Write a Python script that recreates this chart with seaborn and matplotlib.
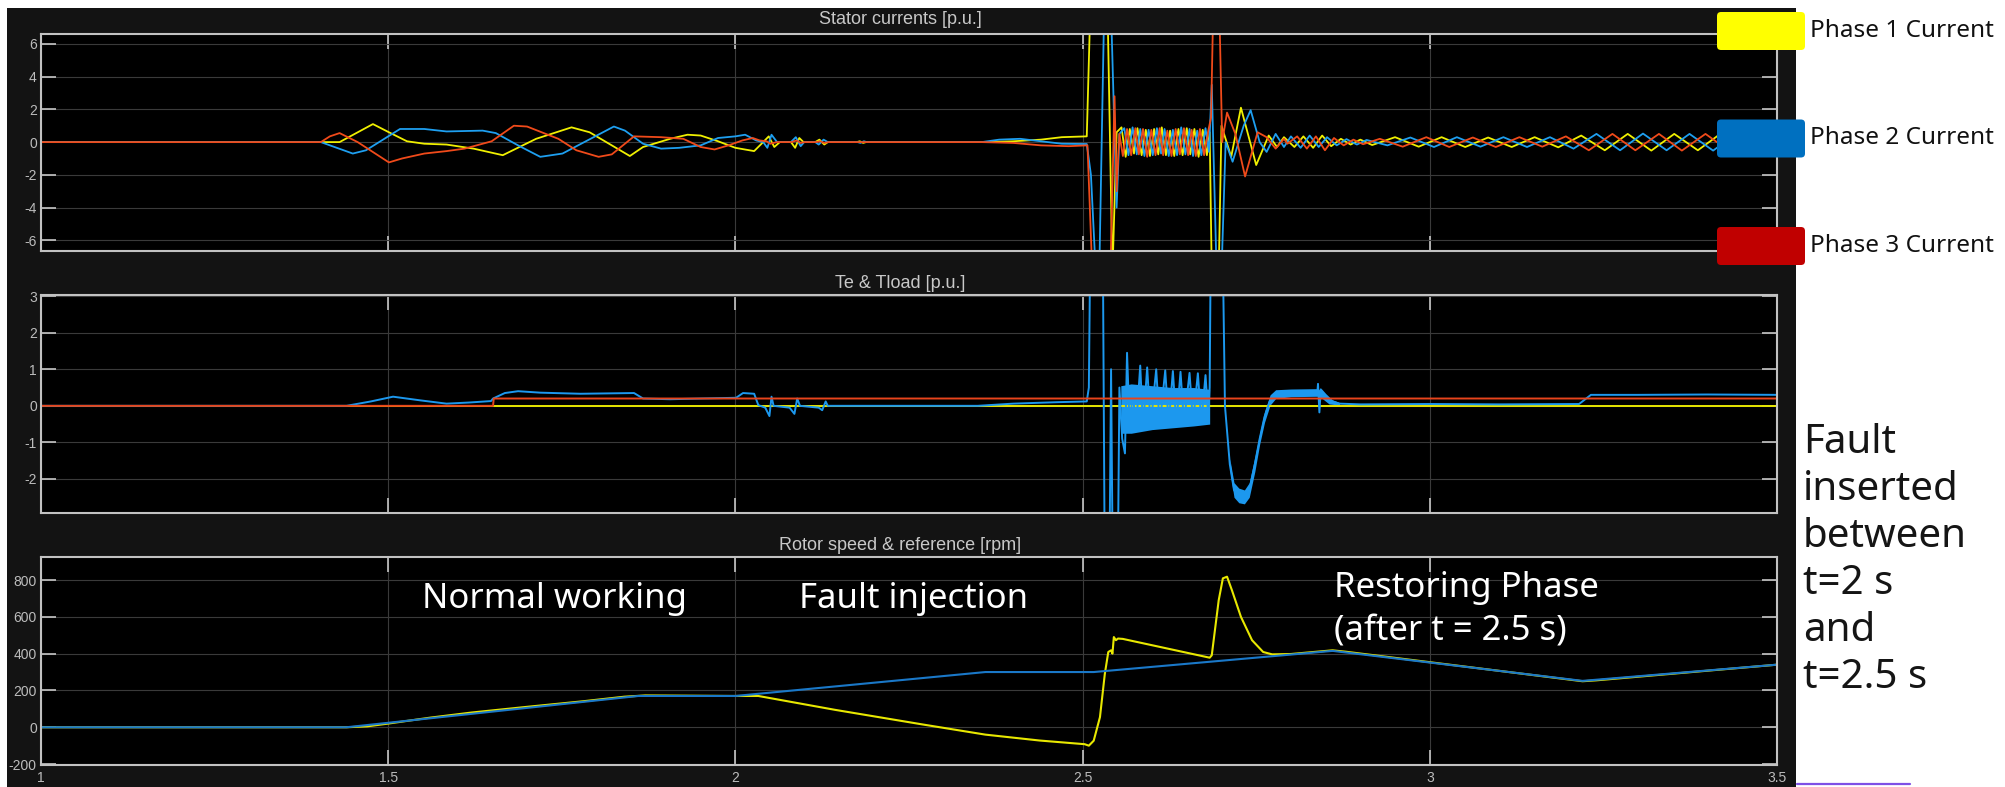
import matplotlib
matplotlib.use("Agg")
import matplotlib.pyplot as plt
from matplotlib.patches import Rectangle, FancyBboxPatch
from matplotlib.lines import Line2D
from matplotlib.transforms import IdentityTransform
import pandas as pd
import seaborn as sns

# ---------------- time axis [s] ----------------
x_ticks = [1, 1.5, 2, 2.5, 3, 3.5]
x_tick_labels = ["1", "1.5", "2", "2.5", "3", "3.5"]

# ---------------- stator currents [p.u.] ----------------
ia_t = [
    1.000, 1.430, 1.478, 1.501, 1.527, 1.552, 1.584, 1.623, 1.665, 1.713, 1.764, 1.790, 1.848, 1.867, 1.906, 1.931,
    1.950, 1.975, 2.000, 2.027, 2.040, 2.048, 2.056, 2.064, 2.080, 2.086, 2.092, 2.098, 2.115, 2.121, 2.128, 2.133, 2.175, 2.179, 2.184, 2.188,
    2.355, 2.400, 2.440, 2.470, 2.506,
    2.511, 2.536, 2.543, 2.549,
    2.556, 2.562, 2.568, 2.574, 2.579, 2.585, 2.591, 2.597, 2.603, 2.609, 2.614, 2.620, 2.626, 2.632, 2.638, 2.644, 2.650, 2.655, 2.661, 2.667, 2.673, 2.679, 2.683,
    2.686, 2.696, 2.700,
    2.714, 2.728, 2.750, 2.768, 2.780, 2.790,
    2.805, 2.818, 2.832, 2.845, 2.858, 2.872, 2.886, 2.900, 2.917,
    2.950, 2.984, 3.017, 3.051, 3.084, 3.118, 3.151, 3.185, 3.218, 3.252, 3.285, 3.319, 3.352, 3.386, 3.419, 3.453, 3.486, 3.500,
]
ia_v = [
    0, 0, 1.10, 0.60, 0.05, -0.10, -0.15, -0.40, -0.80, 0.20, 0.90, 0.60, -0.85, -0.30, 0.20, 0.45,
    0.40, 0.05, -0.35, -0.55, 0.00, 0.35, -0.30, 0.00, 0.00, -0.35, 0.25, 0.00, 0.00, 0.15, -0.15, 0.00, 0.00, 0.05, -0.05, 0.00,
    0.00, 0.05, 0.15, 0.30, 0.35,
    8, 8, -8, 0.60,
    0.90, -0.90, 0.80, -0.70, 0.85, -0.80, 0.75, -0.85, 0.80, -0.75, 0.90, -0.80, 0.70, -0.85, 0.80, -0.80, 0.85, -0.75, 0.80, -0.90, 0.75, -0.80, 0.60,
    -8, -8, 1.00,
    -0.90, 2.10, -1.40, 0.40, -0.30, 0.30,
    -0.30, 0.35, -0.35, 0.40, -0.25, 0.20, -0.15, 0.15, -0.18,
    0.30, -0.28, 0.30, -0.30, 0.28, -0.30, 0.30, -0.32, 0.40, -0.50, 0.50, -0.52, 0.50, -0.50, 0.52, -0.50, 0.50, 0.45,
]

ib_t = [
    1.000, 1.403, 1.449, 1.468, 1.517, 1.552, 1.584, 1.636, 1.655, 1.687, 1.719, 1.751, 1.825, 1.841, 1.867, 1.893, 1.919,
    1.950, 1.975, 2.000, 2.014, 2.030, 2.040, 2.046, 2.052, 2.060, 2.080, 2.087, 2.094, 2.099, 2.115, 2.120, 2.127, 2.133, 2.176, 2.180, 2.185, 2.189,
    2.355, 2.380, 2.410, 2.440, 2.470, 2.506,
    2.512, 2.519, 2.524, 2.531, 2.541, 2.549, 2.553,
    2.560, 2.566, 2.572, 2.578, 2.583, 2.589, 2.595, 2.601, 2.607, 2.613, 2.618, 2.624, 2.630, 2.636, 2.642, 2.648, 2.654, 2.659, 2.665, 2.671, 2.677, 2.682,
    2.686, 2.693, 2.700, 2.706,
    2.716, 2.732, 2.742, 2.755, 2.765, 2.778, 2.790,
    2.800, 2.814, 2.827, 2.840, 2.852, 2.866, 2.880, 2.895, 2.909, 2.939,
    2.972, 3.006, 3.039, 3.073, 3.106, 3.140, 3.173, 3.207, 3.240, 3.274, 3.307, 3.341, 3.374, 3.408, 3.441, 3.475, 3.500,
]
ib_v = [
    0, 0, -0.70, -0.50, 0.80, 0.80, 0.65, 0.70, 0.55, -0.20, -0.90, -0.70, 0.95, 0.70, -0.10, -0.40, -0.35,
    -0.20, 0.25, 0.35, 0.45, 0.10, 0.00, -0.35, 0.45, 0.00, 0.00, 0.30, -0.25, 0.00, 0.00, -0.15, 0.15, 0.00, 0.00, -0.05, 0.05, 0.00,
    0.00, 0.15, 0.20, 0.05, -0.10, -0.12,
    -2.0, -8, -8, 8, 8, -4.0, 0.50,
    0.85, -0.80, 0.90, -0.75, 0.80, -0.85, 0.75, -0.80, 0.85, -0.70, 0.80, -0.85, 0.75, -0.80, 0.90, -0.75, 0.80, -0.85, 0.70, -0.80, 0.85, -0.60,
    3.50, -8, -8, 0.00,
    -1.20, 1.00, 1.95, 0.00, -0.60, 0.50, -0.30,
    0.35, -0.35, 0.40, -0.30, 0.30, -0.20, 0.18, -0.15, 0.13, -0.20,
    0.28, -0.30, 0.30, -0.28, 0.30, -0.30, 0.30, -0.40, 0.50, -0.50, 0.52, -0.50, 0.50, -0.52, 0.50, -0.50, -0.30,
]

ic_t = [
    1.000, 1.403, 1.416, 1.430, 1.456, 1.501, 1.520, 1.552, 1.584, 1.610, 1.649, 1.681, 1.700, 1.745, 1.771, 1.803, 1.822, 1.854, 1.893, 1.925,
    1.950, 1.970, 1.990, 2.010, 2.025, 2.035, 2.045, 2.050, 2.060, 2.081, 2.088, 2.094, 2.100, 2.116, 2.122, 2.128, 2.134,
    2.355, 2.400, 2.440, 2.480, 2.507,
    2.514, 2.540, 2.546, 2.549, 2.553,
    2.558, 2.564, 2.570, 2.576, 2.581, 2.587, 2.593, 2.599, 2.605, 2.611, 2.616, 2.622, 2.628, 2.634, 2.640, 2.646, 2.652, 2.657, 2.663, 2.669, 2.675, 2.681,
    2.685, 2.688, 2.697, 2.701,
    2.708, 2.720, 2.734, 2.752, 2.765, 2.778, 2.790,
    2.795, 2.809, 2.823, 2.836, 2.849, 2.862, 2.876, 2.890, 2.904, 2.928,
    2.961, 2.995, 3.028, 3.062, 3.095, 3.129, 3.162, 3.196, 3.229, 3.263, 3.296, 3.330, 3.363, 3.397, 3.430, 3.464, 3.497, 3.500,
]
ic_v = [
    0, 0, 0.35, 0.55, 0.00, -1.24, -1.00, -0.70, -0.55, -0.40, 0.05, 1.00, 0.95, 0.20, -0.50, -0.90, -0.75, 0.35, 0.30, 0.20,
    -0.30, -0.45, -0.20, 0.10, 0.25, 0.10, 0.05, -0.10, 0.00, 0.00, 0.10, -0.05, 0.00, 0.00, 0.05, -0.05, 0.00,
    0.00, -0.05, -0.20, -0.25, -0.20,
    -8, -8, 2.80, -3.00, 0.50,
    -0.85, 0.80, -0.80, 0.85, -0.75, 0.80, -0.90, 0.75, -0.80, 0.85, -0.80, 0.70, -0.85, 0.80, -0.75, 0.85, -0.80, 0.75, -0.85, 0.80, -0.80, 0.70,
    1.50, 8, 8, 0.00,
    1.80, 0.50, -2.10, 0.60, 0.30, -0.40, 0.20,
    -0.10, 0.35, -0.40, 0.35, -0.50, 0.25, -0.20, 0.15, -0.13, 0.20,
    -0.28, 0.30, -0.30, 0.28, -0.30, 0.30, -0.28, 0.35, -0.50, 0.50, -0.50, 0.50, -0.52, 0.50, -0.50, 0.52, -0.50, -0.48,
]

# ---------------- electromagnetic & load torque [p.u.] ----------------
te_t = [
    1.000, 1.440, 1.475, 1.507, 1.546, 1.584, 1.616, 1.648, 1.651, 1.668,
    1.687, 1.719, 1.777, 1.854, 1.867, 1.906, 1.950, 2.001, 2.011, 2.027,
    2.033, 2.043, 2.049, 2.052, 2.055, 2.078, 2.085, 2.089, 2.093, 2.120,
    2.125, 2.130, 2.133, 2.349, 2.400, 2.464, 2.506, 2.509, 2.513, 2.528,
    2.533, 2.537, 2.541, 2.545, 2.549, 2.553, 2.557, 2.561, 2.564, 2.568,
    2.572, 2.577, 2.583, 2.587, 2.593, 2.598, 2.606, 2.611, 2.619, 2.624,
    2.630, 2.635, 2.641, 2.646, 2.654, 2.659, 2.666, 2.671, 2.677, 2.681,
    2.683, 2.686, 2.699, 2.705, 2.712, 2.718, 2.725, 2.733, 2.740, 2.748,
    2.755, 2.762, 2.770, 2.778, 2.785, 2.800, 2.820, 2.838, 2.839, 2.841,
    2.843, 2.850, 2.860, 2.870, 2.900, 3.000, 3.100, 3.215, 3.232, 3.300,
    3.400, 3.500,
]
te_v = [
    0.00, 0.00, 0.12, 0.25, 0.15, 0.06, 0.09, 0.13, 0.20, 0.35,
    0.40, 0.36, 0.33, 0.35, 0.20, 0.18, 0.20, 0.22, 0.35, 0.33,
    0.02, -0.05, -0.28, 0.25, 0.00, -0.05, -0.22, 0.20, 0.00, -0.05,
    -0.12, 0.12, 0.00, 0.00, 0.06, 0.10, 0.12, 0.50, 8, 8,
    -8, -8, 1.00, -8, -8, 0.50, -0.90, -1.30, 1.45, -0.70,
    0.40, -0.60, 1.10, -0.60, 1.05, -0.55, 1.00, -0.55, 0.97, -0.50,
    0.95, -0.50, 0.93, -0.45, 0.90, -0.45, 0.89, -0.45, 0.84, -0.30,
    0.50, 8, 8, 0.00, -1.60, -2.30, -2.50, -2.55, -2.30, -1.60,
    -0.90, -0.30, 0.15, 0.30, 0.35, 0.36, 0.37, 0.36, 0.60, -0.18,
    0.45, 0.30, 0.12, 0.06, 0.04, 0.05, 0.04, 0.05, 0.30, 0.30,
    0.31, 0.30,
]
# torque ripple envelopes
ripple1_t = [2.555, 2.570, 2.600, 2.630, 2.660, 2.683]
ripple1_hi = [0.55, 0.60, 0.55, 0.50, 0.50, 0.45]
ripple1_lo = [-0.75, -0.75, -0.65, -0.60, -0.55, -0.50]
ripple2_t = [2.712, 2.718, 2.725, 2.733, 2.740, 2.748, 2.755, 2.762, 2.770, 2.778, 2.800, 2.838, 2.845, 2.855, 2.870]
ripple2_hi = [-1.45, -2.10, -2.25, -2.30, -2.10, -1.40, -0.75, -0.15, 0.30, 0.44, 0.46, 0.47, 0.40, 0.20, 0.09]
ripple2_lo = [-1.75, -2.50, -2.65, -2.68, -2.50, -1.80, -1.05, -0.45, 0.02, 0.20, 0.25, 0.26, 0.20, 0.05, 0.02]

tload_t = [1.000, 1.651, 1.652, 3.500]
tload_v = [0.00, 0.00, 0.20, 0.20]
tref_t = [1.000, 3.500]
tref_v = [0.00, 0.00]

# ---------------- rotor speed & reference [rpm] ----------------
ref_t = [1.000, 1.440, 1.860, 2.000, 2.360, 2.516, 2.860, 3.220, 3.500]
ref_v = [0, 0, 170, 170, 300, 300, 415, 252, 340]
spd_t = [
    1.000, 1.440, 1.470, 1.500, 1.560, 1.620, 1.700, 1.780, 1.840, 1.870,
    2.000, 2.033, 2.143, 2.270, 2.360, 2.438, 2.503, 2.509, 2.516, 2.525,
    2.532, 2.537, 2.541, 2.543, 2.545, 2.548, 2.551, 2.558, 2.683, 2.686,
    2.696, 2.702, 2.708, 2.715, 2.728, 2.744, 2.760, 2.773, 2.800, 2.860,
    2.880, 3.220, 3.240, 3.500,
]
spd_v = [
    0, 0, 5, 20, 52, 80, 111, 141, 166, 173,
    170, 170, 95, 15, -40, -72, -92, -100, -73, 55,
    290, 409, 418, 400, 490, 473, 482, 480, 378, 391,
    690, 809, 818, 745, 600, 473, 409, 396, 398, 418,
    410, 250, 255, 340,
]

panel_titles = ["Stator currents [p.u.]", "Te & Tload [p.u.]", "Rotor speed & reference [rpm]"]
phase_labels = ["Phase 1 Current", "Phase 2 Current", "Phase 3 Current"]
phase_patch_colors = ["#ffff00", "#0070c0", "#c00000"]
stage_labels = ["Normal working", "Fault injection", "Restoring Phase", "(after t = 2.5 s)"]
note_lines = ["Fault", "inserted", "between", "t=2 s", "and", "t=2.5 s"]

# ---------------- figure ----------------
W, H, DPI = 2005, 787, 100
sns.set_theme(style="dark")
plt.rcParams["font.family"] = ["Liberation Sans", "DejaVu Sans"]

fig = plt.figure(figsize=(W / DPI, H / DPI), dpi=DPI, facecolor="white")


def fx(px):
    return px / W


def fy(py):
    return 1 - py / H


# dark scope window behind the three panels
fig.add_artist(Rectangle((fx(7), 0), fx(1796) - fx(7), fy(8), transform=fig.transFigure,
                         facecolor="#131313", edgecolor="none", zorder=-5))


def add_panel(top, bottom):
    return fig.add_axes([fx(41), fy(bottom), fx(1777) - fx(41), (bottom - top) / H])


ax1 = add_panel(34, 251)
ax2 = add_panel(295, 513)
ax3 = add_panel(557, 765)


def long_frame(series):
    return pd.concat([pd.DataFrame({"t": t, "v": v, "name": n}) for n, (t, v) in series.items()],
                     ignore_index=True)


cur = long_frame({"Phase 1": (ia_t, ia_v), "Phase 2": (ib_t, ib_v), "Phase 3": (ic_t, ic_v)})
sns.lineplot(data=cur, x="t", y="v", hue="name", hue_order=["Phase 1", "Phase 2", "Phase 3"],
             palette={"Phase 1": "#f0f000", "Phase 2": "#1e9ff0", "Phase 3": "#f04a1a"},
             estimator=None, sort=False, legend=False, linewidth=1.3, ax=ax1)

te_color = "#1c98ee"
ax2.fill_between(ripple1_t, ripple1_lo, ripple1_hi, color=te_color, lw=0, zorder=2)
ax2.fill_between(ripple2_t, ripple2_lo, ripple2_hi, color=te_color, lw=0, zorder=2)
torque = long_frame({"Tref": (tref_t, tref_v), "Te": (te_t, te_v), "Tload": (tload_t, tload_v)})
sns.lineplot(data=torque, x="t", y="v", hue="name", hue_order=["Tref", "Te", "Tload"],
             palette={"Tref": "#e6e600", "Te": te_color, "Tload": "#e8441c"},
             estimator=None, sort=False, legend=False, linewidth=1.4, ax=ax2)

speed = long_frame({"Speed": (spd_t, spd_v), "Reference": (ref_t, ref_v)})
sns.lineplot(data=speed, x="t", y="v", hue="name", hue_order=["Speed", "Reference"],
             palette={"Speed": "#e8e800", "Reference": "#1a78c8"},
             estimator=None, sort=False, legend=False, linewidth=1.5, ax=ax3)


def style(ax, ylim, yticks, show_x):
    ax.set_facecolor("black")
    ax.set_xlim(1, 3.5)
    ax.set_ylim(*ylim)
    ax.set_xticks(x_ticks)
    ax.set_xticklabels(x_tick_labels)
    ax.set_yticks(yticks)
    ax.set_yticklabels([f"{v:g}" for v in yticks])
    ax.set_xlabel("")
    ax.set_ylabel("")
    ax.grid(True, color="#3a3a3a", linewidth=0.8)
    ax.set_axisbelow(True)
    for sp in ax.spines.values():
        sp.set_visible(True)
        sp.set_color("#c2c2c2")
        sp.set_linewidth(1.5)
    ax.tick_params(axis="both", which="major", direction="in", length=11, width=1.2,
                   color="#c6c6c6", labelcolor="#bcbcbc", labelsize=10,
                   top=True, right=True, bottom=True, left=True,
                   labelbottom=show_x, pad=3)
    ax.tick_params(axis="x", pad=4)


style(ax1, (-6.65, 6.6), [-6, -4, -2, 0, 2, 4, 6], False)
style(ax2, (-2.93, 3.03), [-2, -1, 0, 1, 2, 3], False)
style(ax3, (-205, 925), [-200, 0, 200, 400, 600, 800], True)

# panel titles
for title, ty in zip(panel_titles, [20, 283, 545]):
    fig.text(fx(900), fy(ty), title, ha="center", va="center", color="#c8c8c8", fontsize=13)

# stage annotations inside the speed panel
for label, (px, py) in zip(stage_labels, [(422, 608), (799, 608), (1334, 597), (1334, 640)]):
    fig.text(fx(px), fy(py), label, ha="left", va="baseline", color="white",
             fontsize=25, family=["Noto Sans", "DejaVu Sans"])

# phase colour key
for k, (label, color) in enumerate(zip(phase_labels, phase_patch_colors)):
    cy = 31 + 107.5 * k
    fig.add_artist(FancyBboxPatch((1717, H - cy - 19), 88, 38,
                                  boxstyle="round,pad=0,rounding_size=4",
                                  transform=IdentityTransform(),
                                  facecolor=color, edgecolor="none", zorder=10))
    fig.text(fx(1810), fy(cy), label, ha="left", va="center", color="#111111",
             fontsize=17.5, family=["Noto Sans", "DejaVu Sans"], zorder=11)

# side note
for k, line in enumerate(note_lines):
    fig.text(fx(1803), fy(453 + 47 * k), line, ha="left", va="baseline", color="#151515",
             fontsize=29, family=["Noto Sans", "DejaVu Sans"])

fig.add_artist(Line2D([fx(1797), fx(1910)], [fy(784), fy(784)], transform=fig.transFigure,
                      color="#7e50e6", linewidth=1.6))

fig.savefig("out.png", dpi=DPI, facecolor="white")
